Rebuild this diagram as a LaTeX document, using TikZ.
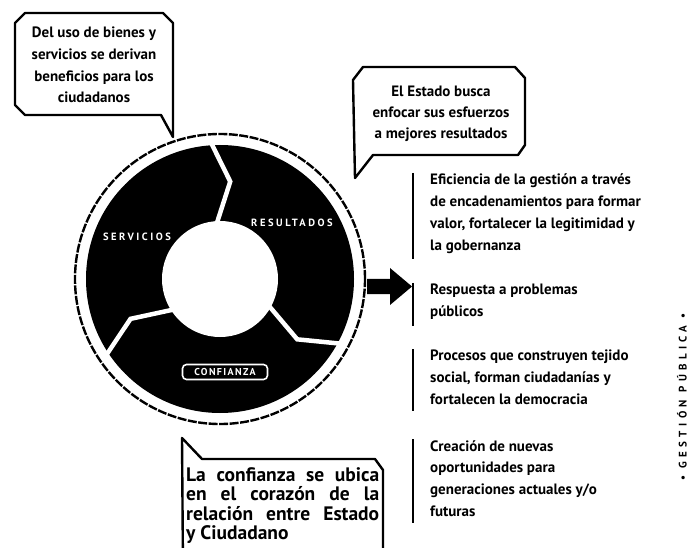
\documentclass[tikz,border=0pt]{standalone}
\usepackage{fontspec}
\setmainfont{PT Sans}
\usepackage{tikz}
\usetikzlibrary{calc}

\begin{document}
\begin{tikzpicture}[x=1pt,y=-1pt]
\tikzstyle{bubble}=[draw=black, line width=2.4pt, line join=round, fill=white]
\tikzstyle{note}=[inner sep=0pt, font=\bfseries\fontsize{15}{21.7}\selectfont]
\tikzstyle{item}=[note, anchor=north west, align=left]
\tikzstyle{bar}=[line width=2.2pt]
\tikzstyle{ringlabel}=[text=white, font=\bfseries\fontsize{10.5}{12}\selectfont\addfontfeature{LetterSpace=24}]
\tikzstyle{gap}=[white, line width=4.5pt, line join=miter]

  \useasboundingbox (0,0) rectangle (691,548);
  \clip (0,0) rectangle (691,548);

  \coordinate (c) at (220,279);
  \fill (c) circle (134pt);
  \fill[white] (c) circle (58pt);
  \draw[line width=2.4pt, dash pattern=on 9pt off 1.5pt] (c) circle (145pt);
  \foreach \a in {94,214,332}
    \draw[gap] ([shift={(c)}]\a:54pt) -- ([shift={(c)}]\a-10:98pt) -- ([shift={(c)}]\a:138pt);

  \node[ringlabel] (serv) at (137,237) {SERVICIOS};
  \node[ringlabel] (res)  at (292,223) {RESULTADOS};
  \node[ringlabel, draw=white, fill=black, line width=1.6pt, rounded corners=4pt,
        inner sep=1pt, minimum width=85pt, minimum height=15pt,
        font=\bfseries\fontsize{10}{11}\selectfont\addfontfeature{LetterSpace=14}] (conf) at (225,372) {CONFIANZA};

  \draw[bubble] (25,13) -- (163,13) -- (173,23) -- (173,137) -- (161,115) -- (25,115)
        -- (15,105) -- (15,23) -- cycle;
  \node[note, align=center] (b1) at (94,65)
        {Del uso de bienes y\\servicios se derivan\\beneficios para los\\ciudadanos};

  \draw[bubble] (363,67) -- (515,67) -- (525,78) -- (525,145) -- (518,155) -- (373,155)
        -- (355,178) -- (353,80) -- cycle;
  \node[note, align=center, font=\bfseries\fontsize{15}{21}\selectfont] (b2) at (441,114)
        {El Estado busca\\enfocar sus esfuerzos\\a mejores resultados};

  \draw[bubble] (182,438) -- (202,459) -- (375,459) -- (383,470) -- (383,570) -- (183,570) -- cycle;
  \node[note, anchor=north west, align=left, font=\bfseries\fontsize{19.5}{19.5}\selectfont] (b3) at (186,467)
        {\makebox[193pt][s]{La confianza se ubica}\\\makebox[193pt][s]{en el corazón de la}\\
         \makebox[193pt][s]{relación entre Estado}\\y Ciudadano};

  \fill (367,279) -- (390,279) -- (390,268) -- (412,286.5) -- (390,305) -- (390,294) -- (367,294) -- cycle;

  \node[item] (it1) at (430,174) {Eficiencia de la gestión a través\\de encadenamientos para formar\\valor, fortalecer la legitimidad y\\la gobernanza};
  \node[item] (it2) at (430,284) {Respuesta a problemas\\públicos};
  \node[item] (it3) at (430,350) {Procesos que construyen tejido\\social, forman ciudadanías y\\fortalecen la democracia};
  \node[item] (it4) at (430,440) {Creación de nuevas\\oportunidades para\\generaciones actuales y/o\\futuras};

  \foreach \n in {it1,it2,it3,it4}
    \draw[bar] ([xshift=-17pt,yshift=1pt]\n.north west) -- ([xshift=-17pt,yshift=-6pt]\n.south west);

  \node[rotate=90, font=\bfseries\fontsize{11}{12}\selectfont\addfontfeature{LetterSpace=40}] (side) at (682,397)
        {• GESTIÓN PÚBLICA •};

\end{tikzpicture}
\end{document}
